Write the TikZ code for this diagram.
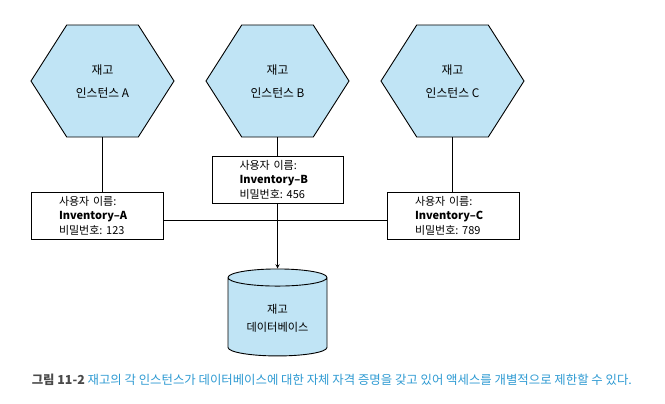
\documentclass[tikz,border=0pt]{standalone}
\usepackage{fontspec}
\setmainfont{Noto Sans CJK KR}
\usetikzlibrary{shapes.geometric}
\definecolor{invBlue}{HTML}{C0E4F5}
\definecolor{capBlue}{HTML}{2E9AD2}
\definecolor{capGray}{HTML}{4A4A4A}
\frenchspacing

\begin{document}
\begin{tikzpicture}[%
    x=1pt, y=-1pt,
    line width=0.9pt,
    instance/.style={%
        draw,
        regular polygon,
        regular polygon sides=6,
        minimum size=143pt,
        yscale=0.905,
        fill=invBlue
    },
    instanceText/.style={%
        align=center,
        font=\fontsize{11.8}{23}\selectfont
    },
    account/.style={%
        draw,
        rectangle,
        align=left,
        text width=76pt,
        minimum width=132pt,
        minimum height=47pt,
        inner sep=0pt,
        font=\fontsize{11}{14.5}\selectfont
    },
    database/.style={%
        draw,
        cylinder,
        shape border rotate=90,
        aspect=0.25,
        minimum width=99pt,
        minimum height=87pt,
        fill=invBlue,
        align=center,
        font=\fontsize{11.2}{18.5}\selectfont
    },
    >=stealth
]

\useasboundingbox (0,0) rectangle (665,404);

% Instances
    \node[instance] (instanceA) at (102.5,81) {};
    \node[instance] (instanceB) at (277.5,81) {};
    \node[instance] (instanceC) at (452.5,81) {};
    \node[instanceText] (labelA) at (instanceA) {재고\\인스턴스 A};
    \node[instanceText] (labelB) at (instanceB) {재고\\인스턴스 B};
    \node[instanceText] (labelC) at (instanceC) {재고\\인스턴스 C};

% Credentials
    \node[account] (accountA) at (97,215.5) {사용자 이름:\\\textbf{Inventory–A}\\비밀번호: 123};
    \node[account, minimum width=131pt] (accountB) at (277.5,179.5) {사용자 이름:\\\textbf{Inventory–B}\\비밀번호: 456};
    \node[account] (accountC) at (453,215.5) {사용자 이름:\\\textbf{Inventory–C}\\비밀번호: 789};

% Database
    \node[database, anchor=north] (database) at (277.5,268.5) {재고\\데이터베이스};

% Caption
    \node[anchor=west, font=\fontsize{12.4}{14}\selectfont] (caption) at (28,380) {\textcolor{capGray}{\textbf{그림 11-2}} \textcolor{capBlue}{재고의 각 인스턴스가 데이터베이스에 대한 자체 자격 증명을 갖고 있어 액세스를 개별적으로 제한할 수 있다.}};

% Arrows
\draw (instanceA.south) -- (instanceA.south |- accountA.north);
\draw (instanceB.south) -- (accountB.north);
\draw (instanceC.south) -- (instanceC.south |- accountC.north);

\draw ([yshift=-5pt]accountA.east) -- ([yshift=-5pt]accountC.west);

\draw[->] (accountB.south) -- (database.north);

\end{tikzpicture}
\end{document}
